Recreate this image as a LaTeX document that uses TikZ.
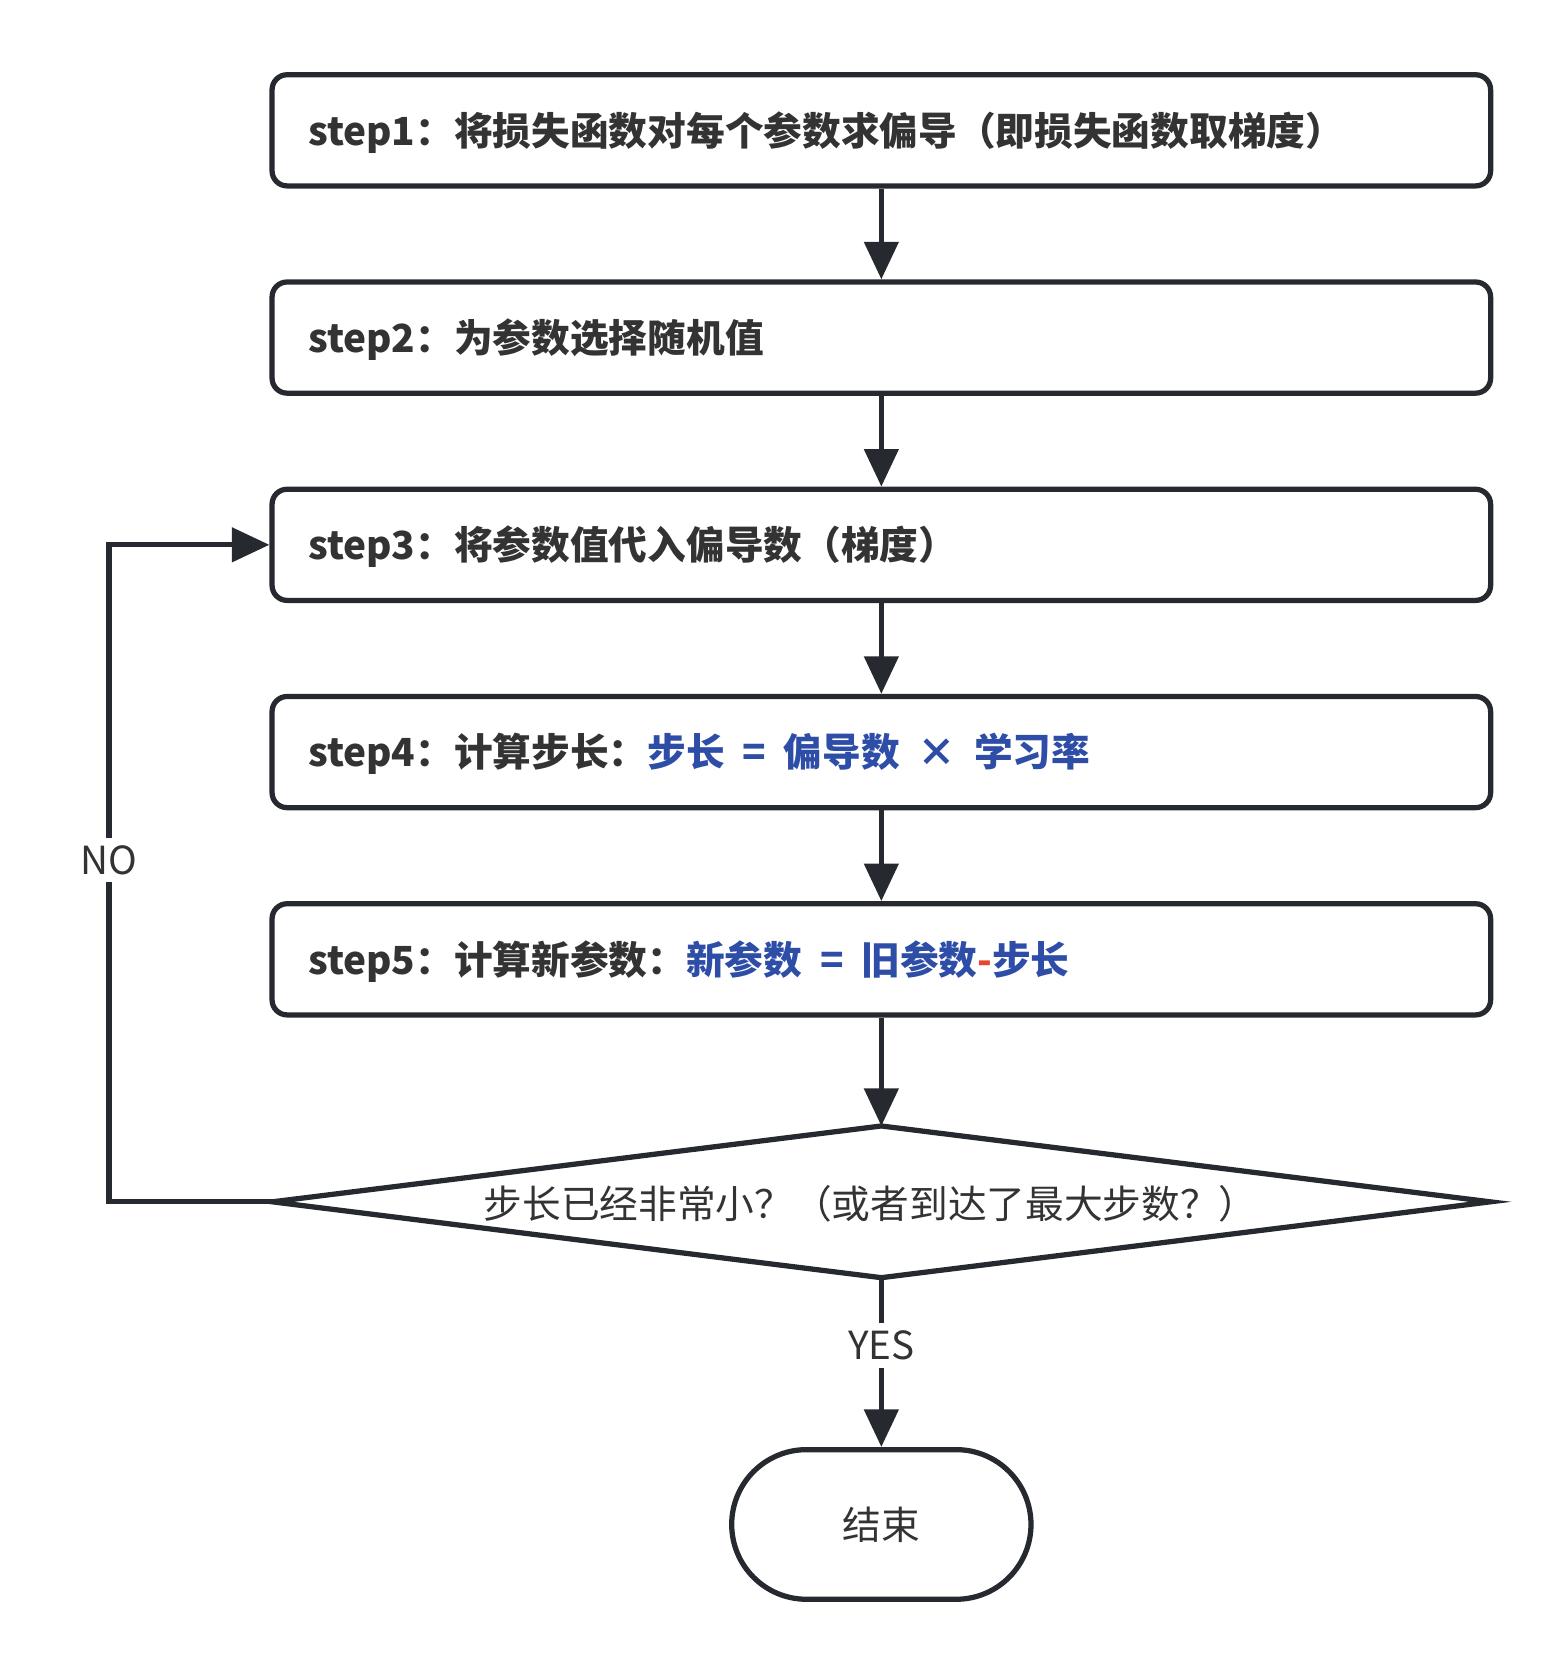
\documentclass[tikz,border=0pt]{standalone}
\usepackage{fontspec}
\setmainfont{Noto Sans CJK SC}
\usepackage{tikz}
\usetikzlibrary{arrows.meta}
\definecolor{linec}{HTML}{262A30}
\definecolor{txtc}{HTML}{333333}
\definecolor{bluec}{HTML}{2E4DA7}
\definecolor{redc}{HTML}{E8442E}
\tikzset{
  stepbox/.style={draw=linec,line width=1.4pt,rounded corners=4pt,minimum width=11.4cm,minimum height=1.04cm},
  flow/.style={draw=linec,line width=1.4pt,-{Triangle[length=10pt,width=9pt]}},
  steptext/.style={anchor=west,text=txtc,font=\fontsize{10.3}{12}\selectfont\bfseries},
  lbl/.style={fill=white,text=txtc,font=\fontsize{10.3}{12}\selectfont,inner sep=2pt}
}
\begin{document}
\begin{tikzpicture}[x=0.01cm,y=-0.01cm]
			\useasboundingbox (0,0) rectangle (1464,1567);
			
			\node[stepbox] (s1) at (825,122) {};
			\node[stepbox] (s2) at (825,316) {};
			\node[stepbox] (s3) at (825,510) {};
			\node[stepbox] (s4) at (825,704) {};
			\node[stepbox] (s5) at (825,898) {};
			
			\node[steptext] (t1) at (276,124) {step1：将损失函数对每个参数求偏导（即损失函数取梯度）};
			\node[steptext] (t2) at (276,318) {step2：为参数选择随机值};
			\node[steptext] (t3) at (276,512) {step3：将参数值代入偏导数（梯度）};
			\node[steptext] (t4) at (276,706) {step4：计算步长：\textcolor{bluec}{步长\ \ =\ \ 偏导数\ \ ×\ \ 学习率}};
			\node[steptext] (t5) at (276,900) {step5：计算新参数：\textcolor{bluec}{新参数\ \ =\ \ 旧参数}\textcolor{redc}{-}\textcolor{bluec}{步长}};
			
			% decision
			\coordinate (dw) at (255,1125);
			\coordinate (dn) at (825,1054);
			\coordinate (de) at (1395,1125);
			\coordinate (ds) at (825,1196);
			\draw[linec,line width=1.4pt,line join=miter] (dw) -- (dn) -- (de) -- (ds) -- cycle;
			\node[text=txtc,font=\fontsize{10.3}{12}\selectfont] (dec) at (815,1127) {步长已经非常小？（或者到达了最大步数？）};
			\node[draw=linec,line width=1.4pt,rounded corners=0.7cm,minimum width=2.8cm,minimum height=1.4cm,text=txtc,font=\fontsize{10.3}{12}\selectfont] (stop) at (825,1427) {结束};
			
			\draw[flow] (s1) -- (s2);
			\draw[flow] (s2) -- (s3);
			\draw[flow] (s3) -- (s4);
			\draw[flow] (s4) -- (s5);
			\draw[flow] (s5) -- (dn);
			\draw[flow] (ds) -- node[lbl,pos=0.4] {YES} (stop);
			\draw[flow] (dw) -- (102,1125) -- node[lbl,pos=0.52] {NO} (102,510) -- (s3.west);
		\end{tikzpicture}
\end{document}
